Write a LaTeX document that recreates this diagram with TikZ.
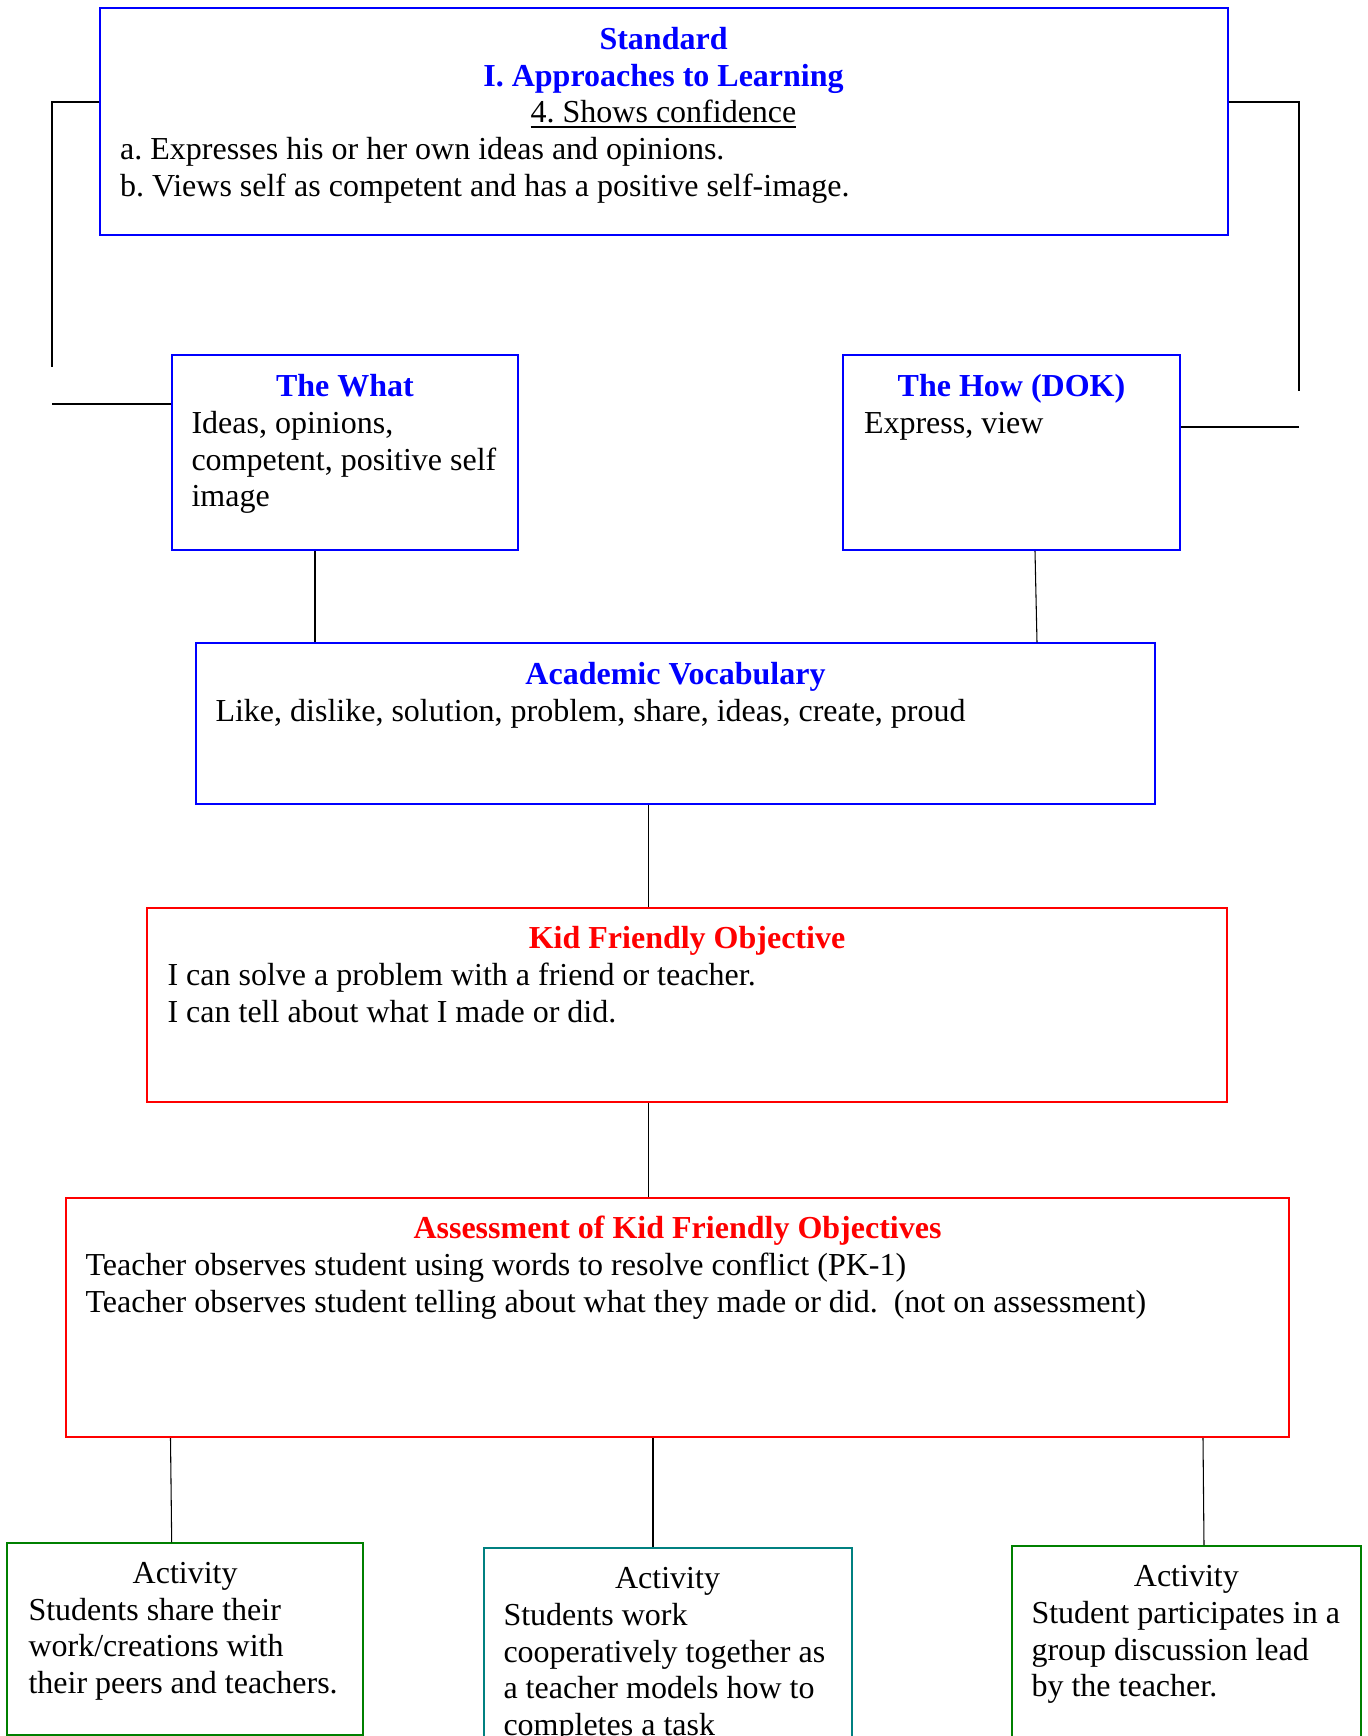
\documentclass[tikz,border=0pt]{standalone}
\usepackage{fontspec}
\setmainfont{Liberation Serif}
\usepackage{xcolor}
\usetikzlibrary{positioning,calc,fit}
\definecolor{stdblue}{HTML}{0000FF}
\definecolor{kidred}{HTML}{FF0000}
\definecolor{actgreen}{HTML}{008000}
\definecolor{actteal}{HTML}{008080}
\newcommand{\figsize}{\fontsize{12}{13.8}\selectfont\frenchspacing}
\tikzset{
  figfont/.style={font=\figsize},
  figbox/.style={draw, line width=0.75pt, inner sep=0pt},
  figboxblue/.style={figbox, draw=stdblue},
  figboxred/.style={figbox, draw=kidred},
  figboxgreen/.style={figbox, draw=actgreen},
  figboxteal/.style={figbox, draw=actteal},
  fighead/.style={inner sep=0pt, anchor=base, font=\figsize\bfseries, text=#1},
  figactivity/.style={inner sep=0pt, anchor=base, font=\figsize},
  % anchored on the baseline of the last line
  figbody/.style={inner sep=0pt, anchor=base west, align=left},
  figlink/.style={line width=0.4pt},
  figbracket/.style={line width=0.6pt},
}

\begin{document}
\begin{tikzpicture}[figfont, x=0.375pt, y=-0.375pt]
		\useasboundingbox (0,0) rectangle (1368,1736);

		% Standard
		\node[figboxblue, fit={(99.6,7.7) (1227.5,234.6)}] (std) {};
		\node[inner sep=0pt, anchor=base, align=center] (stdhead) at ($(std.north)+(0,116.1)$)
		{\textcolor{stdblue}{\textbf{Standard}}\\
		 \textcolor{stdblue}{\textbf{I. Approaches to Learning}}\\
		 \underline{4. Shows confidence}};
		\node[figbody] (stdbody) at ($(std.north west)+(21,189.3)$)
		{a. Expresses his or her own ideas and opinions.\\
		 b. Views self as competent and has a positive self-image.};

		% The what / the how
		\node[figboxblue, fit={(172,355) (518,550)}] (what) {};
		\node[fighead=stdblue] (whathead) at ($(what.north)+(0,42.5)$) {The What};
		\node[figbody] (whatbody) at ($(what.north west)+(20,152.9)$)
		{Ideas, opinions,\\competent, positive self\\image};

		\node[figboxblue, fit={(843,355) (1180,550)}] (how) {};
		\node[fighead=stdblue] (howhead) at ($(how.north)+(0,42.5)$) {The How (DOK)};
		\node[figbody] (howbody) at ($(how.north west)+(21.5,79.3)$) {Express, view};

		% Academic vocabulary
		\node[figboxblue, fit={(196,643.3) (1155,804)}] (av) {};
		\node[fighead=stdblue] (avhead) at ($(av.north)+(0,42.5)$) {Academic Vocabulary};
		\node[figbody] (avbody) at ($(av.north west)+(20,79.3)$)
		{Like, dislike, solution, problem, share, ideas, create, proud};

		% Kid friendly objective
		\node[figboxred, fit={(147,908) (1227,1102)}] (kfo) {};
		\node[fighead=kidred] (kfohead) at ($(kfo.north)+(0,41.5)$) {Kid Friendly Objective};
		\node[figbody] (kfobody) at ($(kfo.north west)+(21,115.1)$)
		{I can solve a problem with a friend or teacher.\\
		 I can tell about what I made or did.};

		% Assessment
		\node[figboxred, fit={(66,1197.5) (1289,1437)}] (assess) {};
		\node[fighead=kidred] (assesshead) at ($(assess.north)+(0,42)$) {Assessment of Kid Friendly Objectives};
		\node[figbody] (assessbody) at ($(assess.north west)+(20,115.6)$)
		{Teacher observes student using words to resolve conflict (PK-1)\\
		 Teacher observes student telling about what they made or did.\ \ (not on assessment)};

		% Activities
		\node[figboxgreen, fit={(7.3,1543.3) (363,1735)}] (act1) {};
		\node[figactivity] (act1head) at ($(act1.north)+(0,41)$) {Activity};
		\node[figbody] (act1body) at ($(act1.north west)+(21.7,151.4)$)
		{Students share their\\work/creations with\\their peers and teachers.};

		\node[figboxteal, fit={(483.5,1548.3) (851.6,1775)}] (act2) {};
		\node[figactivity] (act2head) at ($(act2.north)+(0,41.2)$) {Activity};
		\node[figbody] (act2body) at ($(act2.north west)+(20.5,188.4)$)
		{Students work\\cooperatively together as\\a teacher models how to\\completes a task};

		\node[figboxgreen, fit={(1011.7,1546) (1361,1775)}] (act3) {};
		\node[figactivity] (act3head) at ($(act3.north)+(0,41.5)$) {Activity};
		\node[figbody] (act3body) at ($(act3.north west)+(20.3,151.9)$)
		{Student participates in a\\group discussion lead\\by the teacher.};

		% Side brackets
		\coordinate (lbend) at (52,367);
		\coordinate (lbfoot) at (52,404);
		\coordinate (rbend) at (1299,391);
		\coordinate (rbfoot) at (1299,427);
		\draw[figbracket] ($(std.north west)+(0,95.5)$) -| (lbend);
		\draw[figbracket] (lbfoot) -- (lbfoot -| what.west);
		\draw[figbracket] ($(std.north east)+(0,95.5)$) -| (rbend);
		\draw[figbracket] (rbfoot) -- (rbfoot -| how.east);

		% Links
		\draw[figlink] ($(what.south west)+(144,0)$) -- ($(av.north west)+(120,0)$);
		\draw[figlink] ($(how.south west)+(193,0)$) -- ($(av.north west)+(842,0)$);
		\draw[figlink] ($(av.south west)+(453.5,0)$) -- ($(kfo.north west)+(502.5,0)$);
		\draw[figlink] ($(kfo.south west)+(502.5,0)$) -- ($(assess.north west)+(583.5,0)$);
		\draw[figlink] ($(assess.south west)+(105.5,0)$) -- ($(act1.north west)+(165.4,0)$);
		\draw[figlink] ($(assess.south west)+(588,0)$) -- ($(act2.north west)+(170.5,0)$);
		\draw[figlink] ($(assess.south west)+(1138,0)$) -- ($(act3.north west)+(193.3,0)$);
	\end{tikzpicture}
\end{document}
